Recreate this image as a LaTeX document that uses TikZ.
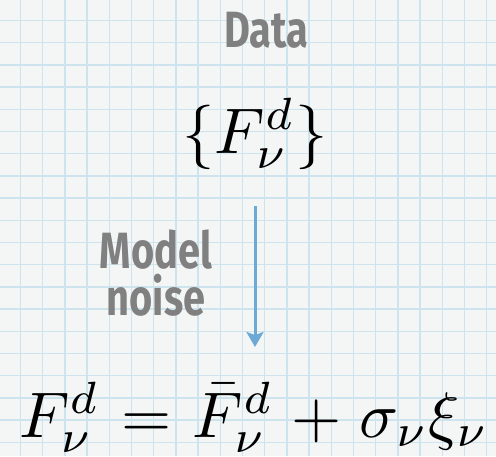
\documentclass[tikz,border=0pt]{standalone}
\usepackage{amsmath,amssymb}
\usepackage{fontspec}
\newfontfamily\handfont[FakeStretch=0.78]{Fira Sans}
\usetikzlibrary{arrows.meta,positioning}
\definecolor{inkgray}{RGB}{128,128,128}
\definecolor{arrowblue}{RGB}{108,170,213}
\definecolor{gridblue}{RGB}{205,228,238}
\definecolor{paper}{RGB}{244,245,245}

\begin{document}
\begin{tikzpicture}[
  x=1pt, y=-1pt,
  grid/.style={gridblue, line width=1.3pt},
  hand/.style={inkgray, inner sep=0pt, align=center,
               font=\handfont\bfseries\fontsize{51}{47}\selectfont},
  formula/.style={inner sep=0pt},
  arr/.style={-{Stealth[length=15pt, width=17pt, inset=3pt]},
              arrowblue, line width=3pt},
]
\fill[paper] (0,0) rectangle (496,456);
\useasboundingbox (0,0) rectangle (496,456);
% graph paper
\foreach \k in {0,...,21}
  \draw[grid] (20.5+22.2*\k,0) -- (20.5+22.2*\k,456);
\foreach \k in {0,...,19}
  \draw[grid] (0,20.5+22.2*\k) -- (496,20.5+22.2*\k);

\node[hand, anchor=base] (data) at (266,47) {Data};
\node[formula, anchor=base] (set) at (255,153)
      {\scalebox{6.45}{$\{F^d_\nu\}$}};
\node[formula, anchor=base] (eq) at (254,437)
      {\scalebox{6.45}{$\thickmuskip=6mu \medmuskip=5mu
        F^d_\nu = \bar{F}^d_\nu + \sigma_\nu\xi_\nu$}};
\node[hand] (noise) at (156,273) {Model\\noise};
\draw[arr, shorten <=37pt, shorten >=35pt] (set.south) -- (set.south |- eq.north);
\end{tikzpicture}
\end{document}
